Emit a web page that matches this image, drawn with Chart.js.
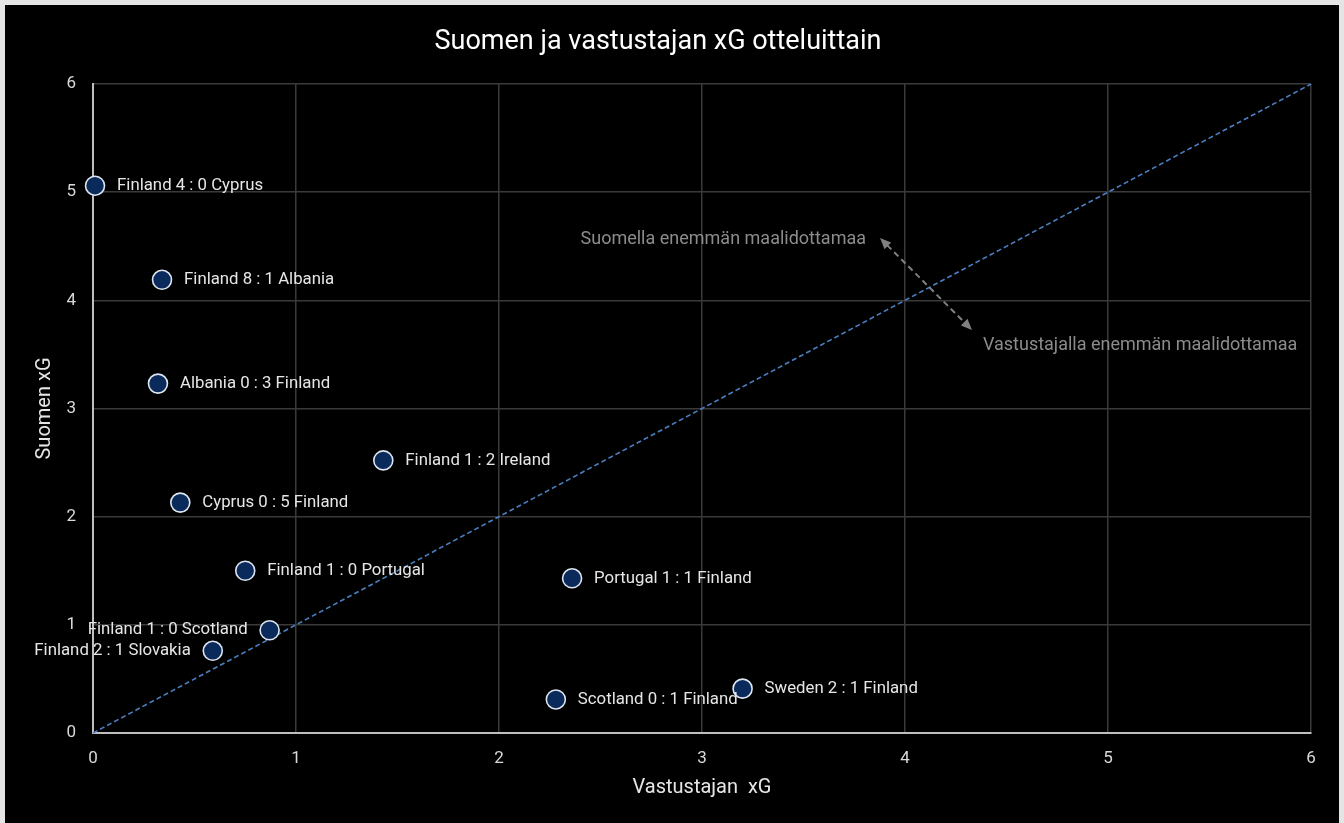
<!DOCTYPE html>
<html>
<head>
<meta charset="utf-8">
<script src="https://cdn.jsdelivr.net/npm/chart.js@4.4.1/dist/chart.umd.min.js"></script>
<style>
  html, body { margin: 0; padding: 0; background: #e4e4e4; }
  #wrap { position: absolute; left: 5px; top: 5px; width: 1334px; height: 818px; background: #000; }
</style>
</head>
<body>
<div id="wrap"><canvas id="xg-chart"></canvas></div>
<script>
  // Ottelut: vastustajan xG (x) ja Suomen xG (y)
  const matchLabels = [
    'Finland 4 : 0 Cyprus',
    'Finland 8 : 1 Albania',
    'Albania 0 : 3 Finland',
    'Finland 1 : 2 Ireland',
    'Cyprus 0 : 5 Finland',
    'Finland 1 : 0 Portugal',
    'Portugal 1 : 1 Finland',
    'Finland 1 : 0 Scotland',
    'Finland 2 : 1 Slovakia',
    'Scotland 0 : 1 Finland',
    'Sweden 2 : 1 Finland',
  ];
  const opponentXG = [0.01, 0.34, 0.32, 1.43, 0.43, 0.75, 2.36, 0.87, 0.59, 2.28, 3.20];
  const finlandXG  = [5.06, 4.19, 3.23, 2.52, 2.13, 1.50, 1.43, 0.95, 0.76, 0.31, 0.41];
  const axisTicks = [0, 1, 2, 3, 4, 5, 6];

  const FONT = "Roboto, 'Noto Sans', sans-serif";

  // tekstit + nuoli + pisteiden nimet
  const annotate = {
    id: 'annotate',
    afterDatasetsDraw(chart) {
      const { ctx, scales: { x, y } } = chart;
      ctx.save();

      // nuoli molempiin suuntiin
      const a = { x: x.getPixelForValue(3.877), y: y.getPixelForValue(4.576) };
      const b = { x: x.getPixelForValue(4.330), y: y.getPixelForValue(3.726) };
      ctx.strokeStyle = '#808080';
      ctx.fillStyle = '#808080';
      ctx.lineWidth = 2;
      ctx.setLineDash([6, 4]);
      const ang = Math.atan2(b.y - a.y, b.x - a.x);
      const head = 10;
      ctx.beginPath();
      ctx.moveTo(a.x + Math.cos(ang) * head, a.y + Math.sin(ang) * head);
      ctx.lineTo(b.x - Math.cos(ang) * head, b.y - Math.sin(ang) * head);
      ctx.stroke();
      ctx.setLineDash([]);
      [[a, ang + Math.PI], [b, ang]].forEach(([p, t]) => {
        ctx.beginPath();
        ctx.moveTo(p.x, p.y);
        ctx.lineTo(p.x - Math.cos(t - 0.4) * head * 1.2, p.y - Math.sin(t - 0.4) * head * 1.2);
        ctx.lineTo(p.x - Math.cos(t + 0.4) * head * 1.2, p.y - Math.sin(t + 0.4) * head * 1.2);
        ctx.closePath();
        ctx.fill();
      });

      ctx.font = '18px ' + FONT;
      ctx.fillStyle = '#8c8c8c';
      ctx.textBaseline = 'middle';
      ctx.textAlign = 'right';
      ctx.fillText('Suomella enemmän maalidottamaa', x.getPixelForValue(3.808), y.getPixelForValue(4.558));
      ctx.textAlign = 'left';
      ctx.fillText('Vastustajalla enemmän maalidottamaa', x.getPixelForValue(4.384), y.getPixelForValue(3.587));

      // pisteiden nimet
      const leftSide = new Set(['Finland 1 : 0 Scotland', 'Finland 2 : 1 Slovakia']);
      const meta = chart.getDatasetMeta(1);
      ctx.font = '16.8px ' + FONT;
      ctx.fillStyle = '#e6e6e6';
      meta.data.forEach((pt, i) => {
        const name = matchLabels[i];
        if (leftSide.has(name)) {
          ctx.textAlign = 'right';
          ctx.fillText(name, pt.x - 22, pt.y);
        } else {
          ctx.textAlign = 'left';
          ctx.fillText(name, pt.x + 22, pt.y);
        }
      });
      ctx.restore();
    },
  };

  new Chart(document.getElementById('xg-chart'), {
    type: 'scatter',
    data: {
      datasets: [
        {
          type: 'line',
          data: [{ x: axisTicks[0], y: axisTicks[0] }, { x: axisTicks[6], y: axisTicks[6] }],
          borderColor: '#4a7fc1',
          borderWidth: 1.6,
          borderDash: [5, 3],
          pointRadius: 0,
          fill: false,
          order: 2,
          clip: false,
        },
        {
          data: opponentXG.map((v, i) => ({ x: v, y: finlandXG[i] })),
          backgroundColor: '#0b2a5c',
          borderColor: '#dde6f0',
          borderWidth: 1.6,
          pointRadius: 9.5,
          pointHoverRadius: 9.5,
          order: 1,
          clip: false,
        },
      ],
    },
    options: {
      responsive: true,
      maintainAspectRatio: false,
      animation: false,
      layout: { padding: { left: 0, right: 28, top: 0, bottom: 0 } },
      plugins: {
        legend: { display: false },
        tooltip: { enabled: false },
        title: {
          display: true,
          text: 'Suomen ja vastustajan xG otteluittain',
          color: '#ffffff',
          font: { family: FONT, size: 27, weight: 'normal', lineHeight: 1.2 },
          padding: { top: 21, bottom: 25.6 },
        },
      },
      scales: {
        x: {
          type: 'linear',
          min: 0,
          max: 6,
          afterFit: s => { s.height = 90; },
          ticks: { stepSize: 1, color: '#d9d9d9', padding: 16, font: { family: FONT, size: 17 } },
          grid: { color: '#3a3a3a', lineWidth: 1.5, drawTicks: false },
          border: { color: '#bfbfbf', width: 2 },
          title: {
            display: true,
            text: 'Vastustajan  xG',
            color: '#e6e6e6',
            font: { family: FONT, size: 20, lineHeight: 1.2 },
            padding: { top: 0, bottom: 23 },
          },
        },
        y: {
          type: 'linear',
          min: 0,
          max: 6,
          afterFit: s => { s.width = 88; },
          ticks: { stepSize: 1, color: '#d9d9d9', padding: 17, font: { family: FONT, size: 17 } },
          grid: { color: '#3a3a3a', lineWidth: 1.5, drawTicks: false },
          border: { color: '#bfbfbf', width: 2 },
          title: {
            display: true,
            text: 'Suomen xG',
            color: '#e6e6e6',
            font: { family: FONT, size: 20, lineHeight: 1.2 },
            padding: { top: 28, bottom: 0 },
          },
        },
      },
    },
    plugins: [annotate],
  });
</script>
</body>
</html>
